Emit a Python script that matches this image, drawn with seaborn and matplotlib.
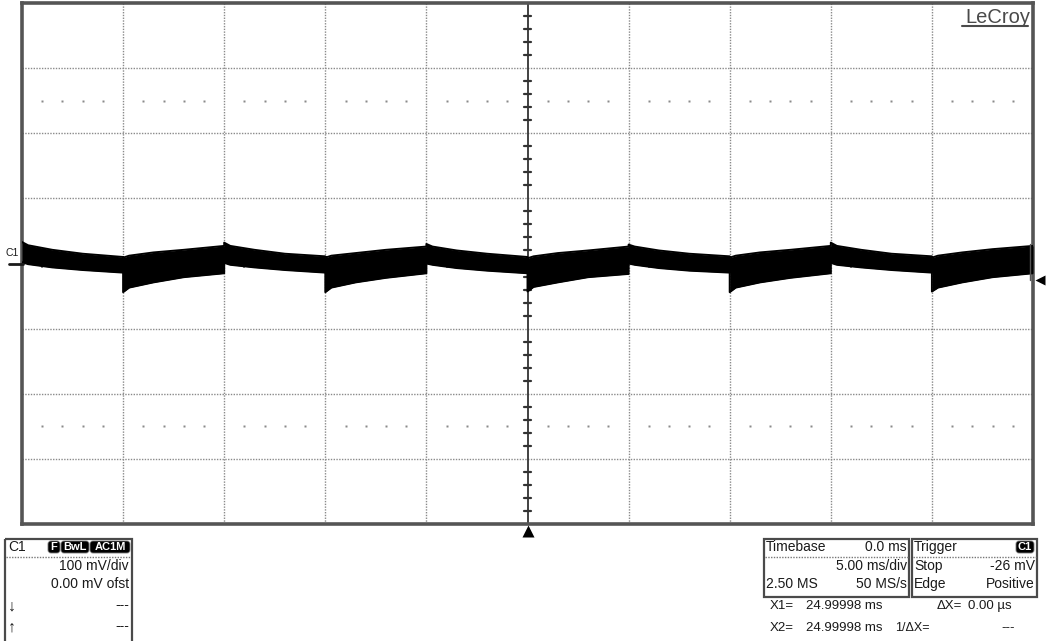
import numpy as np
import matplotlib
matplotlib.use("Agg")
import matplotlib.pyplot as plt
from matplotlib.patches import Rectangle, FancyBboxPatch
import seaborn as sns

# time axis in ms (5 ms/div, 10 div), envelope of the noisy trace in mV (100 mV/div)
t_ms = [0, 0.3, 1.5, 3, 5,
        5, 5.3, 6.5, 8, 10,
        10, 10.3, 11.5, 13, 15,
        15, 15.3, 16.5, 18, 20,
        20, 20.3, 21.5, 23, 25,
        25, 25.3, 26.5, 28, 30,
        30, 30.3, 31.5, 33, 35,
        35, 35.3, 36.5, 38, 40,
        40, 40.3, 41.5, 43, 45,
        45, 45.3, 46.5, 48, 50]
top_mv = [33, 28, 21, 15, 10,
          9, 12, 17, 21, 27,
          32, 27, 21, 15, 11,
          9, 12, 16, 21, 26,
          30, 26, 20, 15, 10,
          8, 11, 16, 20, 26,
          29, 26, 20, 15, 11,
          9, 12, 17, 21, 27,
          32, 27, 21, 15, 11,
          9, 12, 17, 22, 27]
bot_mv = [2, -1, -6, -10, -14,
          -44, -37, -29, -21, -15,
          1, -2, -6, -10, -14,
          -44, -37, -29, -22, -15,
          0, -2, -7, -11, -15,
          -43, -36, -29, -21, -16,
          0, -2, -7, -11, -14,
          -44, -37, -29, -22, -15,
          1, -2, -6, -10, -14,
          -43, -37, -29, -21, -15]

ch_badges = ["F", "BwL", "AC1M"]
ch_rows = ["100 mV/div", "0.00 mV ofst"]
tb_rows = [("Timebase", "0.0 ms"), ("", "5.00 ms/div"), ("2.50 MS", "50 MS/s")]
trig_rows = [("Trigger", ""), ("Stop", "-26 mV"), ("Edge", "Positive")]
trig_level_mv = -26

sns.set_theme(style="white")
plt.rcParams['font.family'] = ['Liberation Sans', 'DejaVu Sans']

W, H = 1047, 641
fig = plt.figure(figsize=(W / 100, H / 100), dpi=100)
fig.patch.set_facecolor("white")

# graticule area in pixels
L, T, R, B = 22, 3, 1033, 524
ax = fig.add_axes([L / W, (H - B) / H, (R - L) / W, (B - T) / H])
ax.set_xlim(0, 50)
ax.set_ylim(-400, 400)
ax.set_xticks([])
ax.set_yticks([])
for s in ax.spines.values():
    s.set_color("#555555")
    s.set_linewidth(2.6)

grid_kw = dict(color="#8a8a8a", lw=1.0, ls=(0, (1, 1)), zorder=1)
for x in range(5, 50, 5):
    if x != 25:
        ax.axvline(x, **grid_kw)
for y in (-300, -200, -100, 100, 200, 300):
    ax.axhline(y, **grid_kw)
ax.axvline(25, color="#333333", lw=1.3, zorder=1)
ax.axhline(0, color="#333333", lw=1.3, zorder=1)

# minor ticks on centre lines
for y in range(-380, 400, 20):
    if y % 100:
        ax.plot([24.83, 25.17], [y, y], color="#333333", lw=1.6, zorder=1)
for x in range(1, 50):
    if x % 5:
        ax.plot([x, x], [-5.5, 5.5], color="#333333", lw=1.3, zorder=1)

# dot rows at +/-2.5 div
dot_x = [x for x in range(1, 50) if x % 5]
for y in (250, -250):
    ax.plot(dot_x, [y] * len(dot_x), ls="none", marker="s", ms=1.6,
            color="#8a8a8a", mec="none", zorder=1)

# trace band
ax.fill_between(t_ms, bot_mv, top_mv, color="black", lw=0, zorder=3)
sns.lineplot(x=t_ms, y=top_mv, estimator=None, sort=False, color="black",
             lw=1.4, ax=ax, zorder=3)
sns.lineplot(x=t_ms, y=bot_mv, estimator=None, sort=False, color="black",
             lw=1.4, ax=ax, zorder=3)
ax.plot([49.85, 49.85], [top_mv[-1] + 3, bot_mv[-1] - 10], color="#555555", lw=1, zorder=4)

ax.text(49.85, 393, "LeCroy", ha="right", va="top", fontsize=14.5, color="#4a4a4a")
ax.plot([46.5, 49.75], [365, 365], color="#4a4a4a", lw=1.5)

# overlay in pixel coords
ov = fig.add_axes([0, 0, 1, 1])
ov.set_xlim(0, W)
ov.set_ylim(H, 0)
ov.axis("off")
ov.patch.set_alpha(0)

txt = dict(fontsize=10, color="#1a1a1a", va="center")
cur = dict(fontsize=9.5, color="#1a1a1a", va="center")

# channel marker on the left
y0 = T + (B - T) / 2
ov.text(5, 253, "C1", fontsize=7.5, color="#1a1a1a", va="center")
ov.plot([9, 23], [y0, y0], color="#1a1a1a", lw=2)

# trigger markers
ov.plot([527.5], [530.5], marker="^", ms=8, color="black", mec="none", clip_on=False)
trig_y = y0 - trig_level_mv / 100 * (B - T) / 8
ov.plot([1040], [trig_y], marker="<", ms=7, color="black", mec="none", clip_on=False)

def badge(x0, x1, label, y=541, h=12):
    p = FancyBboxPatch((x0, y), x1 - x0, h, boxstyle="round,pad=0,rounding_size=3",
                       fc="black", ec="#777777", lw=0.6)
    ov.add_patch(p)
    ov.text((x0 + x1) / 2, y + h / 2 + 0.5, label, ha="center", va="center",
            fontsize=8, color="white", fontweight="bold")

# channel box
ov.add_patch(Rectangle((5, 539), 127, 120, fill=False, ec="#4a4a4a", lw=1.6, clip_on=False))
ov.plot([6, 131], [557, 557], color="#777777", lw=1, ls=(0, (1, 1)))
ov.text(8, 547, "C1", **txt)
for (x0, x1), lab in zip([(48, 60), (61, 89), (90, 130)], ch_badges):
    badge(x0, x1, lab)
ov.text(129, 566, ch_rows[0], ha="right", **txt)
ov.text(129, 584, ch_rows[1], ha="right", **txt)
ov.text(8, 606, "\u2193", fontsize=11.5, color="#1a1a1a", va="center")
ov.text(8, 627, "\u2191", fontsize=11.5, color="#1a1a1a", va="center")
ov.text(129, 605, "---", ha="right", **txt)
ov.text(129, 626, "---", ha="right", **txt)

# timebase box
ov.add_patch(Rectangle((764, 539), 145, 58, fill=False, ec="#4a4a4a", lw=1.6))
ov.plot([765, 908], [557, 557], color="#777777", lw=1, ls=(0, (1, 1)))
for yy, (lft, rgt) in zip([547, 566, 584], tb_rows):
    ov.text(766, yy, lft, ha="left", **txt)
    ov.text(907, yy, rgt, ha="right", **txt)

# trigger box
ov.add_patch(Rectangle((912, 539), 125, 58, fill=False, ec="#4a4a4a", lw=1.6))
ov.plot([913, 1036], [557, 557], color="#777777", lw=1, ls=(0, (1, 1)))
for yy, (lft, rgt) in zip([547, 566, 584], trig_rows):
    ov.text(914, yy, lft, ha="left", **txt)
    ov.text(1035, yy, rgt, ha="right", **txt)
badge(1016, 1034, "C1")

# cursor readouts
ov.text(770, 606, "X1=", **cur)
ov.text(806, 606, "24.99998 ms", **cur)
ov.text(962, 606, "\u0394X=", ha="right", **cur)
ov.text(968, 606, "0.00 \u00b5s", **cur)
ov.text(770, 628, "X2=", **cur)
ov.text(806, 628, "24.99998 ms", **cur)
ov.text(895, 628, "1/\u0394X=", fontsize=9, color="#1a1a1a", va="center")
ov.text(1015, 628, "---", ha="right", **cur)

fig.savefig("out.png", dpi=100, facecolor="white")
